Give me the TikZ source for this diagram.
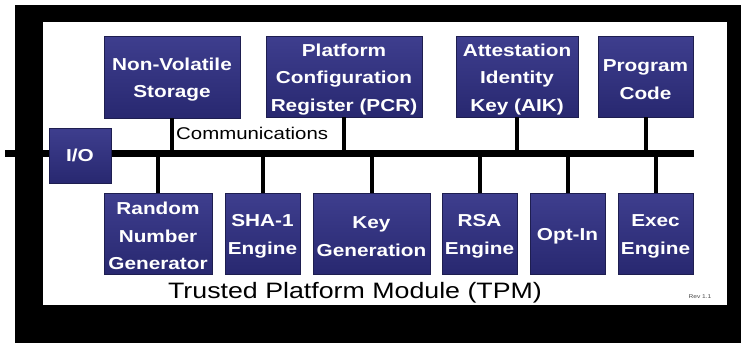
\documentclass[tikz,border=0pt]{standalone}
\usepackage{fontspec}
\setmainfont[FakeStretch=1.2]{Liberation Sans}
\definecolor{boxtop}{RGB}{62,62,142}
\definecolor{boxmid}{RGB}{100,104,186}
\definecolor{boxbot}{RGB}{40,40,112}
\definecolor{boxedge}{RGB}{30,30,80}
\newcommand\tpmup{\rule{0pt}{18pt}}
\tikzset{
  tpmbox/.style={draw=boxedge, line width=0.6pt, top color=boxtop, middle color=boxmid, bottom color=boxbot,
    text=white, align=center, inner sep=0pt, font=\fontsize{17.3}{27.5}\selectfont\bfseries},
  busline/.style={line width=7pt, black},
  link/.style={line width=4pt, black},
}
\begin{document}
\begin{tikzpicture}[x=1pt,y=-1pt]
\useasboundingbox (0,0) rectangle (741,343);
\fill[white] (0,0) rectangle (741,343);
\fill[black] (15,5) rectangle (741,343);
\fill[white] (43,22) rectangle (727,305);

\coordinate (busL) at (5,153);
\coordinate (busR) at (694,153);
\draw[busline] (busL) -- (busR);

% top row
\node[tpmbox, minimum width=136, minimum height=82] (nvs) at (172,77) {\tpmup Non-Volatile\\Storage};
\node[tpmbox, minimum width=156, minimum height=81] (pcr) at (344,76.5) {\tpmup Platform\\Configuration\\Register (PCR)};
\node[tpmbox, minimum width=122, minimum height=81] (aik) at (517,76.5) {\tpmup Attestation\\Identity\\Key (AIK)};
\node[tpmbox, minimum width=95, minimum height=81] (prog) at (645.5,76.5) {\tpmup Program\\Code};

% bottom row
\node[tpmbox, minimum width=108, minimum height=81] (rng) at (158,233.5) {\tpmup Random\\Number\\Generator};
\node[tpmbox, minimum width=75, minimum height=81] (sha) at (262.5,233.5) {\tpmup SHA-1\\Engine};
\node[tpmbox, minimum width=117, minimum height=81] (keyg) at (371.5,233.5) {\tpmup Key\\Generation};
\node[tpmbox, minimum width=75, minimum height=81] (rsa) at (479.5,233.5) {\tpmup RSA\\Engine};
\node[tpmbox, minimum width=75, minimum height=81] (optin) at (567.5,233.5) {\tpmup Opt-In};
\node[tpmbox, minimum width=75, minimum height=81] (exec) at (655.5,233.5) {\tpmup Exec\\Engine};

% connectors
\foreach \n in {nvs,pcr,aik,prog} {
  \draw[link] (\n.south) -- (\n.south |- busL);
}
\foreach \n in {rng,sha,keyg,rsa,optin,exec} {
  \draw[link] (\n.north) -- (\n.north |- busL);
}

% I/O
\node[tpmbox, minimum width=62, minimum height=55] (io) at (80,155.5) {I/O};

% labels
\node[font=\fontsize{17}{20}\selectfont, anchor=west, inner sep=0pt] (comm) at (176,133) {Communications};
\node[font=\fontsize{22.3}{26}\selectfont, inner sep=0pt] (title) at (355,292.5) {Trusted Platform Module (TPM)};
\node[font=\fontsize{5.5}{7}\selectfont, text=black!70, inner sep=0pt] (rev) at (700,297) {Rev 1.1};
\end{tikzpicture}
\end{document}
